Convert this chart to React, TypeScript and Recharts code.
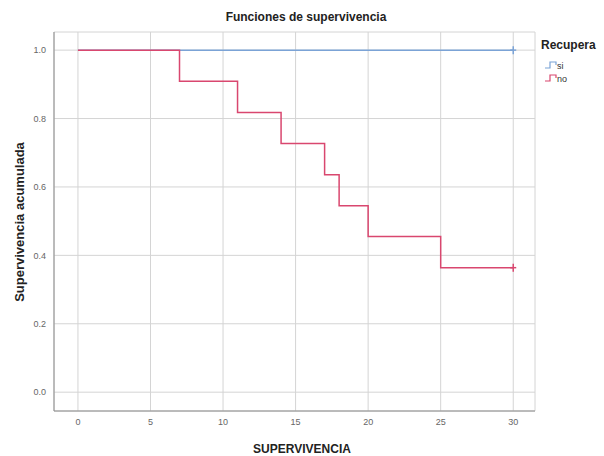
import React from 'react';
import {
  LineChart,
  Line,
  XAxis,
  YAxis,
  CartesianGrid,
} from 'recharts';

// tiempos y supervivencia acumulada (Kaplan-Meier) por grupo
const tiemposSi = [0, 30];
const supervSi = [1.0, 1.0];
const tiemposNo = [0, 7, 11, 14, 17, 18, 20, 25, 30];
const supervNo = [1.0, 0.909, 0.818, 0.727, 0.636, 0.545, 0.455, 0.364, 0.364];

const xTicks = [0, 5, 10, 15, 20, 25, 30];
const yTicks = [0, 0.2, 0.4, 0.6, 0.8, 1.0];

const grupos = [
  { key: 'si', label: 'si', color: '#7ba3d6' },
  { key: 'no', label: 'no', color: '#d9476f' },
];

const dataSi = tiemposSi.map((t, i) => ({ t, s: supervSi[i] }));
const dataNo = tiemposNo.map((t, i) => ({ t, s: supervNo[i] }));

const FONT = '"Liberation Sans", Arial, sans-serif';

function censorDot(color: string, lastIndex: number) {
  return (props: any) => {
    const { cx, cy, index } = props;
    if (index !== lastIndex) return <g key={`d-${index}`} />;
    return (
      <g key={`d-${index}`}>
        <line x1={cx - 3} y1={cy} x2={cx + 3} y2={cy} stroke={color} strokeWidth={1.5} />
        <line x1={cx} y1={cy - 4} x2={cx} y2={cy + 4} stroke={color} strokeWidth={1.5} />
      </g>
    );
  };
}

// títulos y leyenda como texto SVG encima del gráfico
function Overlay() {
  return (
    <svg
      width={604}
      height={456}
      style={{ position: 'absolute', left: 0, top: 0, pointerEvents: 'none', fontFamily: FONT }}
    >
      <text x={306} y={21} textAnchor="middle" fontSize={12} fontWeight="bold" fill="#222">
        Funciones de supervivencia
      </text>
      <text
        x={24}
        y={222}
        textAnchor="middle"
        fontSize={13}
        fontWeight="bold"
        fill="#222"
        transform="rotate(-90, 24, 222)"
      >
        Supervivencia acumulada
      </text>
      <text x={302} y={453} textAnchor="middle" fontSize={12} fontWeight="bold" fill="#222">
        SUPERVIVENCIA
      </text>
      <text x={541} y={49} fontSize={12} fontWeight="bold" fill="#222">
        Recupera
      </text>
      {grupos.map((g, i) => {
        const y = 65 + i * 13;
        return (
          <g key={g.key}>
            <path
              d={`M545,${y + 3} H550 V${y - 3} H556 V${y}`}
              fill="none"
              stroke={g.color}
              strokeWidth={1.2}
            />
            <text x={557} y={y + 3.5} fontSize={9} fill="#333">
              {g.label}
            </text>
          </g>
        );
      })}
    </svg>
  );
}

export default function App() {
  return (
    <div style={{ position: 'absolute', left: 0, top: 0, width: 604, height: 456, background: '#fff' }}>
      <LineChart
        width={604}
        height={456}
        margin={{ top: 32, right: 69, left: 14, bottom: 15 }}
        style={{ fontFamily: FONT }}
      >
        <CartesianGrid stroke="#d4d4d4" strokeWidth={1} />
        <XAxis
          type="number"
          dataKey="t"
          domain={[-1.65, 31.5]}
          ticks={xTicks}
          tickLine={false}
          axisLine={{ stroke: '#8c8c8c' }}
          tick={{ fontSize: 9, fill: '#666' }}
          height={30}
          allowDataOverflow
        />
        <YAxis
          type="number"
          dataKey="s"
          domain={[-0.055, 1.053]}
          ticks={yTicks}
          tickFormatter={(v: number) => v.toFixed(1)}
          tickLine={false}
          axisLine={{ stroke: '#8c8c8c' }}
          tick={{ fontSize: 9, fill: '#666' }}
          width={40}
          allowDataOverflow
        />
        <Line
          data={dataSi}
          dataKey="s"
          name="si"
          type="stepAfter"
          stroke={grupos[0].color}
          strokeWidth={1.5}
          dot={censorDot(grupos[0].color, dataSi.length - 1)}
          activeDot={false}
          isAnimationActive={false}
        />
        <Line
          data={dataNo}
          dataKey="s"
          name="no"
          type="stepAfter"
          stroke={grupos[1].color}
          strokeWidth={1.5}
          dot={censorDot(grupos[1].color, dataNo.length - 1)}
          activeDot={false}
          isAnimationActive={false}
        />
      </LineChart>
      <Overlay />
    </div>
  );
}
